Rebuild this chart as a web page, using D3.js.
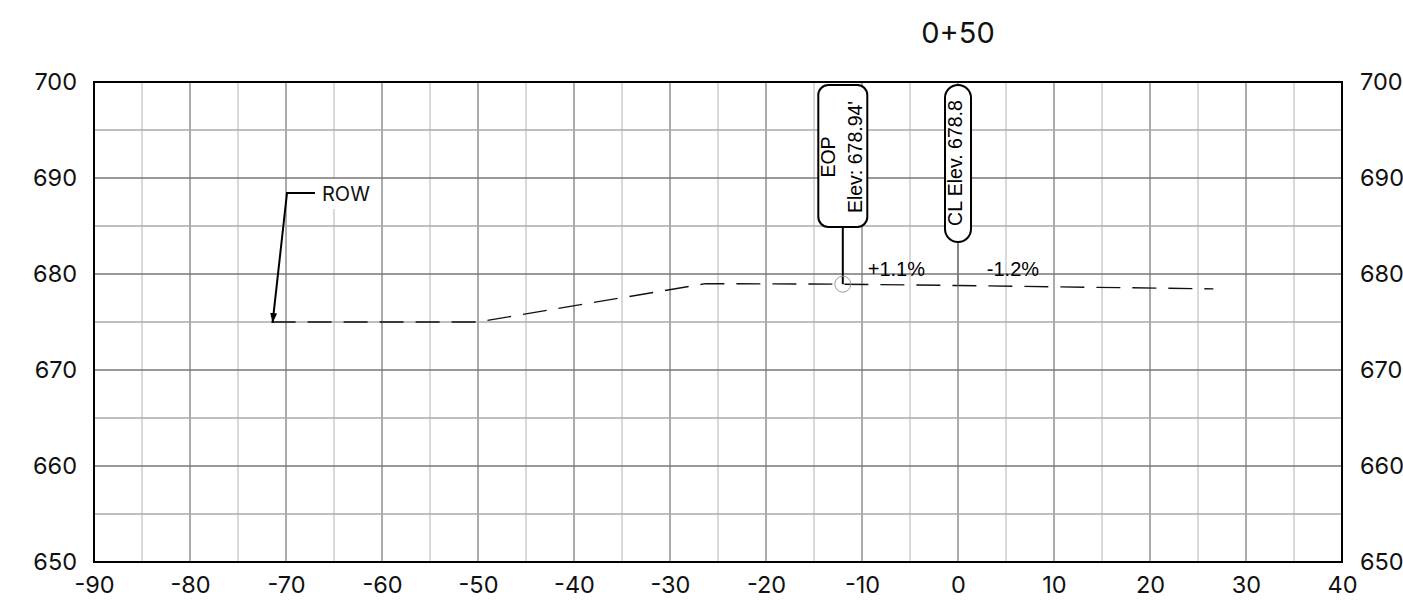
<!DOCTYPE html>
<html><head><meta charset="utf-8">
<script src="https://cdn.jsdelivr.net/npm/d3@7"></script>
<style>body{margin:0;background:#fff}svg{display:block}</style>
</head><body>
<script>
const title = "0+50";
const xTicks = [-90,-80,-70,-60,-50,-40,-30,-20,-10,0,10,20,30,40];
const yTicks = [650,660,670,680,690,700];
const profileX = [-71.5, -50, -26.3, -12, 0, 26.6];
const profileY = [675, 675, 679, 678.94, 678.8, 678.45];
const eop = {x: -12, y: 678.94, lines: ["EOP", "Elev: 678.94'"]};
const cl = {x: 0, y: 678.8, text: "CL Elev. 678.8"};
const slopes = [{x: -9.4, y: 679.8, text: "+1.1%"}, {x: 3, y: 679.8, text: "-1.2%"}];
const row = {x: -71.4, y: 674.9, text: "ROW"};

const W = 1403, H = 609;
const svg = d3.select("body").append("svg").attr("width", W).attr("height", H);
const x = d3.scaleLinear().domain([-90, 40]).range([94, 1342]);
const y = d3.scaleLinear().domain([650, 700]).range([562, 82]);
const axisFont = "Inter, 'Liberation Sans', sans-serif";
const annFont = "'Liberation Sans', Arial, sans-serif";
const fmt = d => String(d);

// grid
const g = svg.append("g");
d3.range(-90, 41, 5).forEach(v => {
  g.append("line").attr("x1", x(v)).attr("x2", x(v)).attr("y1", y(650)).attr("y2", y(700))
   .attr("stroke", v % 10 === 0 ? "#aaa" : "#d9d9d9").attr("stroke-width", 2);
});
d3.range(650, 701, 5).forEach(v => {
  g.append("line").attr("x1", x(-90)).attr("x2", x(40)).attr("y1", y(v)).attr("y2", y(v))
   .attr("stroke", v % 10 === 0 ? "#777" : "#aaa").attr("stroke-width", 1.5);
});
svg.append("rect").attr("x", x(-90)).attr("y", y(700)).attr("width", x(40)-x(-90)).attr("height", y(650)-y(700))
  .attr("fill", "none").attr("stroke", "#000").attr("stroke-width", 2);

// axes
const bottom = svg.append("g").attr("transform", `translate(0,${y(650)})`)
  .call(d3.axisBottom(x).tickValues(xTicks).tickSize(0).tickPadding(14).tickFormat(fmt));
bottom.select(".domain").remove();
bottom.selectAll("text").attr("font-family", axisFont).attr("font-size", 23.5).attr("fill", "#111");
const left = svg.append("g").attr("transform", `translate(${x(-90)},0)`)
  .call(d3.axisLeft(y).tickValues(yTicks).tickSize(0).tickPadding(17).tickFormat(fmt));
left.select(".domain").remove();
left.selectAll("text").attr("font-family", axisFont).attr("font-size", 23.5).attr("fill", "#111");
const right = svg.append("g").attr("transform", `translate(${x(40)},0)`)
  .call(d3.axisRight(y).tickValues(yTicks).tickSize(0).tickPadding(18).tickFormat(fmt));
right.select(".domain").remove();
right.selectAll("text").attr("font-family", axisFont).attr("font-size", 23.5).attr("fill", "#111");

// title
svg.append("text").attr("x", x(0)).attr("y", 43).attr("text-anchor", "middle")
  .attr("font-family", axisFont).attr("font-size", 29).attr("fill", "#111").text(title);

// profile
const pts = profileX.map((v, i) => [v, profileY[i]]);
svg.append("path").datum(pts)
  .attr("d", d3.line().x(d => x(d[0])).y(d => y(d[1])))
  .attr("fill", "none").attr("stroke", "#111").attr("stroke-width", 1.4).attr("stroke-dasharray", "24,12");

// EOP marker
svg.append("line").attr("x1", x(eop.x)).attr("x2", x(eop.x)).attr("y1", 227).attr("y2", y(eop.y))
  .attr("stroke", "#000").attr("stroke-width", 2);
svg.append("circle").attr("cx", x(eop.x)).attr("cy", y(eop.y)).attr("r", 8)
  .attr("fill", "none").attr("stroke", "#999").attr("stroke-width", 1);
svg.append("rect").attr("x", x(eop.x)-24.5).attr("y", 85).attr("width", 49).attr("height", 142).attr("rx", 10)
  .attr("fill", "#fff").attr("stroke", "#000").attr("stroke-width", 2);
const et = svg.append("text").attr("transform", `translate(${x(eop.x)},157) rotate(-90)`)
  .attr("text-anchor", "middle").attr("font-family", annFont).attr("font-size", 19.5).attr("fill", "#000");
et.append("tspan").attr("x", 0).attr("y", -8).text(eop.lines[0]);
et.append("tspan").attr("x", 0).attr("y", 19).text(eop.lines[1]);

// CL marker
svg.append("line").attr("x1", x(cl.x)).attr("x2", x(cl.x)).attr("y1", 242).attr("y2", y(cl.y))
  .attr("stroke", "#777").attr("stroke-width", 1.5);
svg.append("rect").attr("x", x(cl.x)-13).attr("y", 85).attr("width", 26).attr("height", 157).attr("rx", 13)
  .attr("fill", "#fff").attr("stroke", "#000").attr("stroke-width", 2);
svg.append("text").attr("transform", `translate(${x(cl.x)+4},163) rotate(-90)`)
  .attr("text-anchor", "middle").attr("font-family", annFont).attr("font-size", 19.5).attr("fill", "#000").text(cl.text);

// slopes
slopes.forEach(s => {
  svg.append("text").attr("x", x(s.x)).attr("y", y(s.y)).attr("font-family", annFont)
    .attr("font-size", 20).attr("fill", "#000").text(s.text);
});

// ROW callout
svg.append("defs").append("marker").attr("id", "arr").attr("viewBox", "0 0 10 10")
  .attr("refX", 10).attr("refY", 5).attr("markerWidth", 5).attr("markerHeight", 5).attr("orient", "auto")
  .attr("markerUnits", "strokeWidth")
  .append("path").attr("d", "M0,1.5 L10,5 L0,8.5 Z").attr("fill", "#000");
svg.append("rect").attr("x", 316).attr("y", 179).attr("width", 62).attr("height", 30).attr("fill", "#fff");
svg.append("path").attr("d", `M315,193 L287,193 L${x(row.x)},${y(row.y)}`)
  .attr("fill", "none").attr("stroke", "#000").attr("stroke-width", 2).attr("marker-end", "url(#arr)");
svg.append("text").attr("x", 322).attr("y", 201).attr("font-family", axisFont).attr("font-size", 20)
  .attr("fill", "#111").text(row.text);
</script>
</body></html>
